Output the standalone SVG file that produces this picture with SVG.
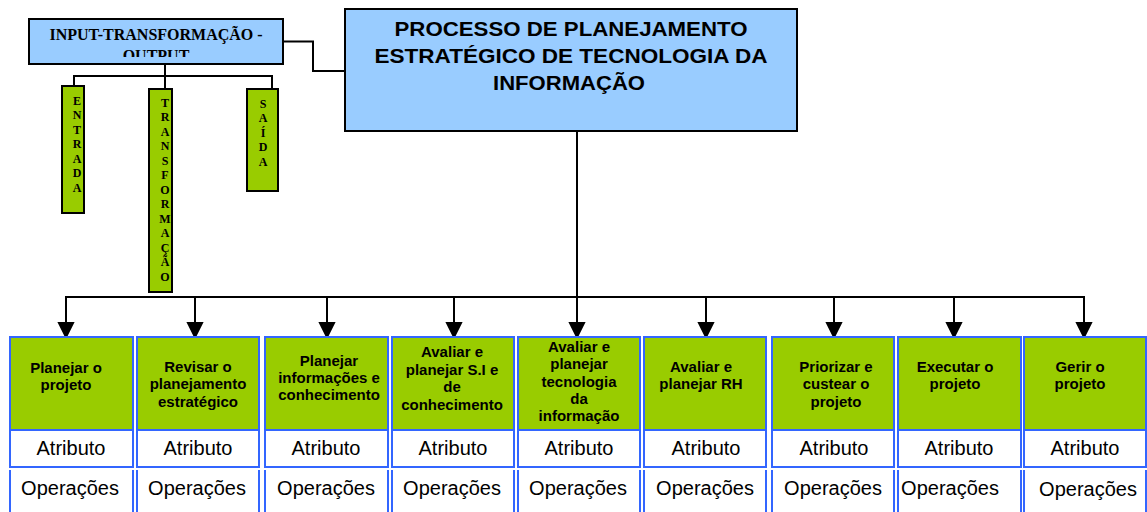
<svg xmlns="http://www.w3.org/2000/svg" width="1147" height="512" viewBox="0 0 1147 512">
<style>
.blue{fill:#99ccff;stroke:#000;stroke-width:2}
.grn{fill:#99cc00;stroke:#000;stroke-width:2}
.ln{fill:none;stroke:#000;stroke-width:2}
.vt{font-family:"Liberation Serif",serif;font-weight:bold;font-size:12px;text-anchor:middle}
.hd{font-family:"Liberation Serif",serif;font-weight:bold;font-size:16px;text-anchor:middle}
.big{font-family:"Liberation Sans",Arial,sans-serif;font-weight:bold;font-size:21px;text-anchor:middle}
.col{fill:#99cc00;stroke:#3366ff;stroke-width:2}
.cw{fill:#fff;stroke:#3366ff;stroke-width:2}
.bl{stroke:#3366ff;stroke-width:2}
.t{font-family:"Liberation Sans",Arial,sans-serif;font-weight:bold;font-size:15px;text-anchor:middle}
.r{font-family:"Liberation Sans",Arial,sans-serif;font-size:20px;text-anchor:middle}
</style>
<defs>
<clipPath id="c1"><rect x="29" y="19" width="254" height="38"/></clipPath>
</defs>
<rect width="1147" height="512" fill="#fff"/>
<g id="connectors">
<polyline class="ln" points="283,41.5 313,41.5 313,71 345,71"/>
<line class="ln" x1="165" y1="64" x2="165" y2="76" stroke-width="3"/>
<polyline class="ln" points="74,86 74,76 272,76 272,89"/>
<line class="ln" x1="165" y1="76" x2="165" y2="89"/>
<line class="ln" x1="577" y1="131" x2="577" y2="324" stroke-width="2.5"/>
<line class="ln" x1="65" y1="297" x2="1085" y2="297"/>
<g fill="#000" stroke="#000" stroke-width="2">
<line x1="66" y1="297" x2="66" y2="324"/><polygon points="59,323 73,323 66,337"/>
<line x1="195" y1="297" x2="195" y2="324"/><polygon points="188,323 202,323 195,337"/>
<line x1="327" y1="297" x2="327" y2="324"/><polygon points="320,323 334,323 327,337"/>
<line x1="454" y1="297" x2="454" y2="324"/><polygon points="447,323 461,323 454,337"/>
<polygon points="570,323 584,323 577,337"/>
<line x1="706" y1="297" x2="706" y2="324"/><polygon points="699,323 713,323 706,337"/>
<line x1="834" y1="297" x2="834" y2="324"/><polygon points="827,323 841,323 834,337"/>
<line x1="954" y1="297" x2="954" y2="324"/><polygon points="947,323 961,323 954,337"/>
<line x1="1084" y1="297" x2="1084" y2="324"/><polygon points="1077,323 1091,323 1084,337"/>
</g>
</g>
<g id="io">
<rect class="blue" x="29" y="19" width="254" height="45"/>
<text class="hd" x="156" y="40">INPUT-TRANSFORMAÇÃO -</text>
<text class="hd" x="156" y="61" clip-path="url(#c1)">OUTPUT</text>
</g>
<g id="entrada">
<rect class="grn" x="62" y="86" width="22" height="127"/>
<text class="vt"><tspan x="77" y="104.5">E</tspan><tspan x="77" dy="14.5">N</tspan><tspan x="77" dy="14.5">T</tspan><tspan x="77" dy="14.5">R</tspan><tspan x="77" dy="14.5">A</tspan><tspan x="77" dy="14.5">D</tspan><tspan x="77" dy="14.5">A</tspan></text>
</g>
<g id="transformacao">
<rect class="grn" x="149" y="89" width="23" height="203"/>
<text class="vt"><tspan x="165" y="106.5">T</tspan><tspan x="165" dy="14.5">R</tspan><tspan x="165" dy="14.5">A</tspan><tspan x="165" dy="14.5">N</tspan><tspan x="165" dy="14.5">S</tspan><tspan x="165" dy="14.5">F</tspan><tspan x="165" dy="14.5">O</tspan><tspan x="165" dy="14.5">R</tspan><tspan x="165" dy="14.5">M</tspan><tspan x="165" dy="14.5">A</tspan><tspan x="165" dy="14.5">Ç</tspan><tspan x="165" dy="14.5">Ã</tspan><tspan x="165" dy="14.5">O</tspan></text>
</g>
<g id="saida">
<rect class="grn" x="247" y="89" width="31" height="102"/>
<text class="vt"><tspan x="263" y="107.5">S</tspan><tspan x="263" dy="14.5">A</tspan><tspan x="263" dy="14.5">Í</tspan><tspan x="263" dy="14.5">D</tspan><tspan x="263" dy="14.5">A</tspan></text>
</g>
<g id="processo">
<rect class="blue" x="345" y="9" width="452" height="122"/>
<text class="big" x="571" y="36" textLength="353" lengthAdjust="spacingAndGlyphs">PROCESSO DE PLANEJAMENTO</text>
<text class="big" x="571" y="63" textLength="393" lengthAdjust="spacingAndGlyphs">ESTRATÉGICO DE TECNOLOGIA DA</text>
<text class="big" x="569" y="90" textLength="152" lengthAdjust="spacingAndGlyphs">INFORMAÇÃO</text>
</g>
<g id="c1n">
<rect class="col" x="10" y="337" width="123" height="93"/><rect class="cw" x="10" y="430" width="123" height="37"/>
<line class="bl" x1="10" y1="470" x2="10" y2="512"/><line class="bl" x1="133" y1="470" x2="133" y2="512"/>
<text class="t"><tspan x="66" y="373">Planejar o</tspan><tspan x="66" y="390">projeto</tspan></text>
<text class="r" x="71" y="455">Atributo</text><text class="r" x="70" y="495">Operações</text>
</g>
<g id="c2n">
<rect class="col" x="137" y="337" width="122" height="93"/><rect class="cw" x="137" y="430" width="122" height="37"/>
<line class="bl" x1="137" y1="470" x2="137" y2="512"/><line class="bl" x1="259" y1="470" x2="259" y2="512"/>
<text class="t"><tspan x="198" y="372">Revisar o</tspan><tspan x="198" y="389">planejamento</tspan><tspan x="198" y="406.5">estratégico</tspan></text>
<text class="r" x="198" y="455">Atributo</text><text class="r" x="197" y="495">Operações</text>
</g>
<g id="c3n">
<rect class="col" x="265" y="337" width="123" height="93"/><rect class="cw" x="265" y="430" width="123" height="37"/>
<line class="bl" x1="265" y1="470" x2="265" y2="512"/><line class="bl" x1="388" y1="470" x2="388" y2="512"/>
<text class="t"><tspan x="329" y="366">Planejar</tspan><tspan x="329" y="383">informações e</tspan><tspan x="329" y="400">conhecimento</tspan></text>
<text class="r" x="326" y="455">Atributo</text><text class="r" x="326" y="495">Operações</text>
</g>
<g id="c4n">
<rect class="col" x="392" y="337" width="122" height="93"/><rect class="cw" x="392" y="430" width="122" height="37"/>
<line class="bl" x1="392" y1="470" x2="392" y2="512"/><line class="bl" x1="514" y1="470" x2="514" y2="512"/>
<text class="t"><tspan x="452" y="357">Avaliar e</tspan><tspan x="452" y="374.5">planejar S.I e</tspan><tspan x="452" y="392">de</tspan><tspan x="452" y="409.5">conhecimento</tspan></text>
<text class="r" x="453" y="455">Atributo</text><text class="r" x="452" y="495">Operações</text>
</g>
<g id="c5n">
<rect class="col" x="518" y="337" width="122" height="93"/><rect class="cw" x="518" y="430" width="122" height="37"/>
<line class="bl" x1="518" y1="470" x2="518" y2="512"/><line class="bl" x1="640" y1="470" x2="640" y2="512"/>
<text class="t"><tspan x="579" y="352">Avaliar e</tspan><tspan x="579" y="369.3">planejar</tspan><tspan x="579" y="386.6">tecnologia</tspan><tspan x="579" y="403.9">da</tspan><tspan x="579" y="421.2">informação</tspan></text>
<text class="r" x="579" y="455">Atributo</text><text class="r" x="578" y="495">Operações</text>
</g>
<g id="c6n">
<rect class="col" x="644" y="337" width="122" height="93"/><rect class="cw" x="644" y="430" width="122" height="37"/>
<line class="bl" x1="644" y1="470" x2="644" y2="512"/><line class="bl" x1="766" y1="470" x2="766" y2="512"/>
<text class="t"><tspan x="701" y="372">Avaliar e</tspan><tspan x="701" y="389">planejar RH</tspan></text>
<text class="r" x="706" y="455">Atributo</text><text class="r" x="705" y="495">Operações</text>
</g>
<g id="c7n">
<rect class="col" x="772" y="337" width="122" height="93"/><rect class="cw" x="772" y="430" width="122" height="37"/>
<line class="bl" x1="772" y1="470" x2="772" y2="512"/><line class="bl" x1="894" y1="470" x2="894" y2="512"/>
<text class="t"><tspan x="836" y="372">Priorizar e</tspan><tspan x="836" y="389">custear o</tspan><tspan x="836" y="406.5">projeto</tspan></text>
<text class="r" x="834" y="455">Atributo</text><text class="r" x="833" y="495">Operações</text>
</g>
<g id="c8n">
<rect class="col" x="898" y="337" width="123" height="93"/><rect class="cw" x="898" y="430" width="123" height="37"/>
<line class="bl" x1="898" y1="470" x2="898" y2="512"/><line class="bl" x1="1021" y1="470" x2="1021" y2="512"/>
<text class="t"><tspan x="955" y="372">Executar o</tspan><tspan x="955" y="389">projeto</tspan></text>
<text class="r" x="959" y="455">Atributo</text><text class="r" x="950" y="495">Operações</text>
</g>
<g id="c9n">
<rect class="col" x="1024" y="337" width="122" height="93"/><rect class="cw" x="1024" y="430" width="122" height="37"/>
<line class="bl" x1="1024" y1="470" x2="1024" y2="512"/><line class="bl" x1="1146" y1="470" x2="1146" y2="512"/>
<text class="t"><tspan x="1080" y="372">Gerir o</tspan><tspan x="1080" y="389">projeto</tspan></text>
<text class="r" x="1085" y="455">Atributo</text><text class="r" x="1088" y="496">Operações</text>
</g>
</svg>
